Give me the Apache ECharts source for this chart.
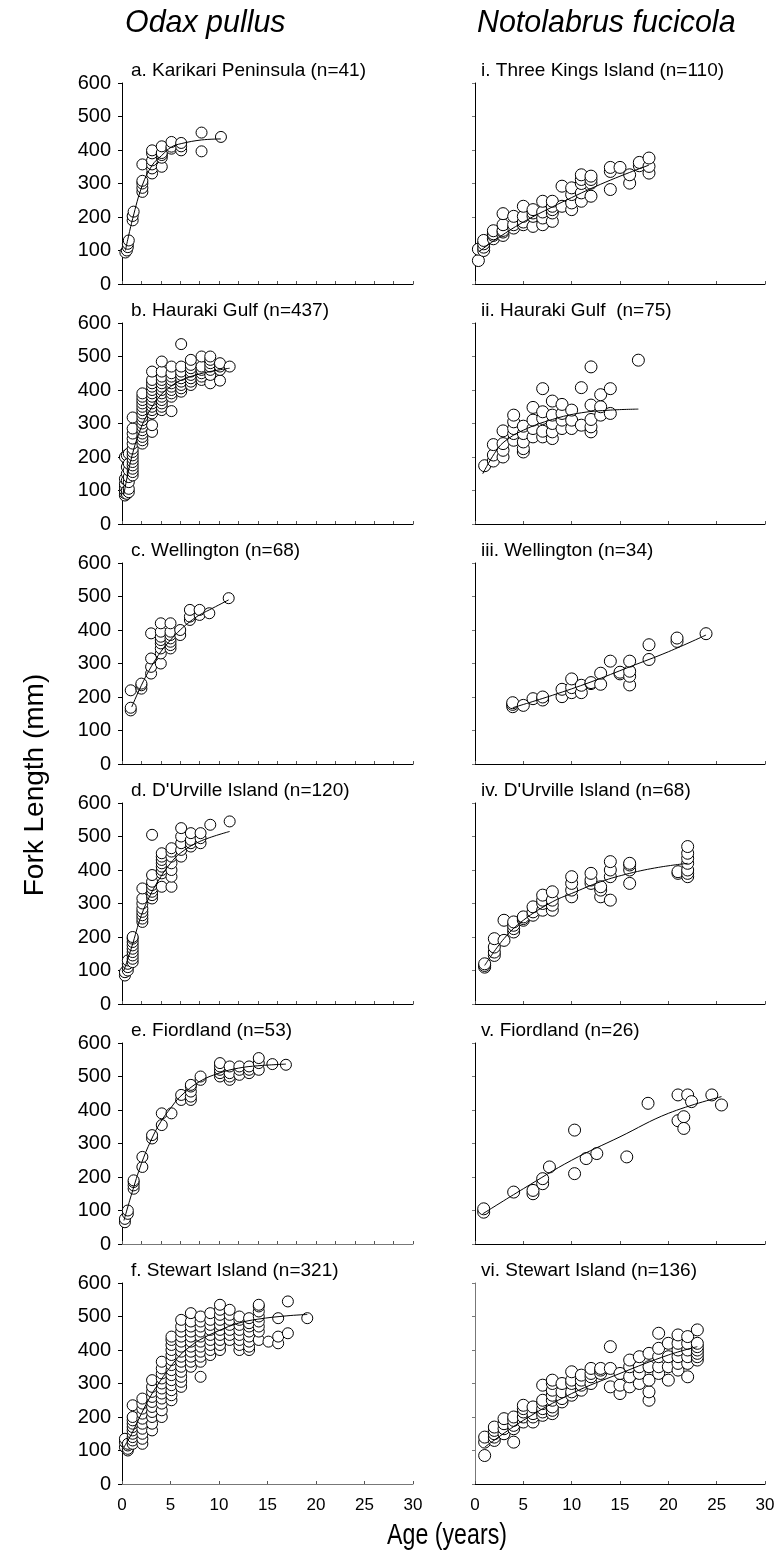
<!DOCTYPE html>
<html>
<head>
<meta charset="utf-8">
<script src="https://cdn.jsdelivr.net/npm/echarts@6/dist/echarts.min.js"></script>
<style>
html,body{margin:0;padding:0;background:#fff;}
#chart{width:782px;height:1559px;}
</style>
</head>
<body>
<div id="chart"></div>
<script>
// ---------- DATA (age in years, fork length in mm) ----------
const columnTitles = ["Odax pullus", "Notolabrus fucicola"];
const panelTitlesLeft = ["a. Karikari Peninsula (n=41)", "b. Hauraki Gulf (n=437)", "c. Wellington (n=68)", "d. D'Urville Island (n=120)", "e. Fiordland (n=53)", "f. Stewart Island (n=321)"];
const panelTitlesRight = ["i. Three Kings Island (n=110)", "ii. Hauraki Gulf  (n=75)", "iii. Wellington (n=34)", "iv. D'Urville Island (n=68)", "v. Fiordland (n=26)", "vi. Stewart Island (n=136)"];
const xTickLabels = ["0", "5", "10", "15", "20", "25", "30"];
const yTickLabels = ["0", "100", "200", "300", "400", "500", "600"];
const xAxisTitle = "Age (years)";
const yAxisTitle = "Fork Length (mm)";

// Odax pullus
const odaxKarikari = [[0.35,94],[0.5,100],[0.6,110],[0.6,120],[0.7,130],[1.1,190],[1.1,203],[1.2,216],[2.1,275],[2.1,287],[2.1,300],[2.1,308],[2.1,357],[3.1,330],[3.1,345],[3.1,357],[3.1,369],[3.1,390],[3.1,399],[4.1,350],[4.1,377],[4.1,385],[4.1,391],[4.1,411],[5.1,404],[5.1,410],[5.1,424],[6.1,399],[6.1,411],[6.1,421],[8.2,396],[8.2,452],[10.2,439]];
const odaxKarikariFit = [[0.35,100],[1.1,195],[2.1,295],[3.1,354],[4.1,384],[5.1,409],[6.1,419],[8.2,430],[10.2,433]];

const odaxHauraki = [[0.3,85],[0.3,92],[0.3,100],[0.3,110],[0.3,120],[0.3,135],[0.3,200],[0.5,90],[0.5,100],[0.5,130],[0.5,150],[0.5,170],[0.5,205],[0.7,95],[0.7,105],[0.7,125],[0.7,140],[0.7,160],[0.7,180],[0.7,210],
[1.1,145],[1.1,155],[1.1,165],[1.1,175],[1.1,185],[1.1,195],[1.1,205],[1.1,215],[1.1,225],[1.1,240],[1.1,255],[1.1,270],[1.1,285],[1.1,318],
[2.1,240],[2.1,250],[2.1,260],[2.1,270],[2.1,280],[2.1,290],[2.1,300],[2.1,310],[2.1,320],[2.1,330],[2.1,340],[2.1,350],[2.1,360],[2.1,370],[2.1,380],[2.1,390],
[3.1,275],[3.1,295],[3.1,330],[3.1,340],[3.1,350],[3.1,360],[3.1,370],[3.1,380],[3.1,390],[3.1,400],[3.1,410],[3.1,420],[3.1,430],[3.1,455],
[4.1,340],[4.1,350],[4.1,360],[4.1,370],[4.1,380],[4.1,390],[4.1,400],[4.1,410],[4.1,420],[4.1,430],[4.1,440],[4.1,455],[4.1,485],
[5.1,337],[5.1,380],[5.1,390],[5.1,400],[5.1,410],[5.1,420],[5.1,430],[5.1,440],[5.1,450],[5.1,470],
[6.1,395],[6.1,405],[6.1,415],[6.1,425],[6.1,435],[6.1,445],[6.1,455],[6.1,470],[6.1,537],
[7.1,415],[7.1,425],[7.1,435],[7.1,445],[7.1,455],[7.1,465],[7.1,475],[7.1,490],
[8.2,430],[8.2,440],[8.2,450],[8.2,460],[8.2,470],[8.2,500],
[9.1,420],[9.1,445],[9.1,460],[9.1,470],[9.1,480],[9.1,490],[9.1,500],
[10.1,428],[10.1,460],[10.1,470],[10.1,480],[11.1,470]];
const odaxHaurakiFit = [[0.2,90],[1,200],[2,290],[3,345],[4,385],[5,410],[6,428],[8,448],[10,460],[11.1,465]];

const odaxWellington = [[0.9,160],[0.9,168],[0.9,220],[2,225],[2,235],[2,240],[3,270],[3,290],[3,315],[3,390],[4,300],[4,330],[4,345],[4,360],[4,370],[4,380],[4,395],[4,420],[5,345],[5,355],[5,365],[5,375],[5,385],[5,395],[5,420],[6,385],[6,400],[7,430],[7,440],[7,460],[8,445],[8,460],[9,450],[11,495]];
const odaxWellingtonFit = [[1,170],[2,235],[3,290],[4,335],[5,370],[6,400],[7,425],[8,445],[9,460],[11,490]];

const odaxDUrville = [[0.3,85],[0.3,95],[0.6,100],[0.6,110],[0.6,120],[0.6,130],
[1.1,125],[1.1,135],[1.1,145],[1.1,155],[1.1,165],[1.1,175],[1.1,185],[1.1,195],[1.1,200],
[2.1,245],[2.1,255],[2.1,265],[2.1,275],[2.1,285],[2.1,300],[2.1,315],[2.1,345],
[3.1,315],[3.1,325],[3.1,335],[3.1,345],[3.1,355],[3.1,365],[3.1,385],[3.1,505],
[4.1,350],[4.1,390],[4.1,400],[4.1,410],[4.1,420],[4.1,430],[4.1,440],[4.1,450],
[5.1,350],[5.1,380],[5.1,400],[5.1,420],[5.1,440],[5.1,455],[5.1,465],
[6.1,440],[6.1,460],[6.1,480],[6.1,500],[6.1,525],[7.1,470],[7.1,480],[7.1,490],[7.1,510],
[8.1,480],[8.1,495],[8.1,510],[9.1,535],[11.1,545]];
const odaxDUrvilleFit = [[0.2,100],[1,170],[2,265],[3,330],[4,380],[5,420],[6,450],[8,485],[11.1,515]];

const odaxFiordland = [[0.3,65],[0.3,75],[0.6,90],[0.6,100],[1.2,165],[1.2,175],[1.2,185],[1.2,190],[2.1,230],[2.1,260],[3.1,315],[3.1,325],[4.1,355],[4.1,390],[5.1,390],[6.1,430],[6.1,445],[7.1,430],[7.1,440],[7.1,455],[7.1,470],[7.1,475],[8.1,490],[8.1,500],[10.1,500],[10.1,510],[10.1,520],[10.1,530],[10.1,540],[11.1,490],[11.1,500],[11.1,510],[11.1,530],[12.1,505],[12.1,520],[12.1,530],[13.1,510],[13.1,520],[13.1,530],[14.1,520],[14.1,540],[14.1,555],[15.5,537],[16.9,535]];
const odaxFiordlandFit = [[0.2,70],[1,150],[2,240],[3,310],[4,365],[5,405],[6,440],[8,485],[10,510],[12,525],[14,532],[16.9,537]];

const odaxStewart = [[0.3,110],[0.3,125],[0.3,135],[0.6,100],[0.6,105],[0.6,115],[0.6,120],
[1.1,120],[1.1,130],[1.1,140],[1.1,150],[1.1,160],[1.1,170],[1.1,180],[1.1,190],[1.1,200],[1.1,235],
[2.1,120],[2.1,135],[2.1,150],[2.1,165],[2.1,180],[2.1,195],[2.1,210],[2.1,225],[2.1,240],[2.1,255],
[3.1,160],[3.1,180],[3.1,200],[3.1,215],[3.1,230],[3.1,245],[3.1,260],[3.1,275],[3.1,290],[3.1,310],
[4.1,200],[4.1,220],[4.1,240],[4.1,255],[4.1,270],[4.1,285],[4.1,300],[4.1,315],[4.1,330],[4.1,345],[4.1,365],
[5.1,250],[5.1,265],[5.1,280],[5.1,295],[5.1,310],[5.1,325],[5.1,340],[5.1,355],[5.1,370],[5.1,385],[5.1,400],[5.1,415],[5.1,430],[5.1,440],
[6.1,290],[6.1,305],[6.1,320],[6.1,335],[6.1,350],[6.1,365],[6.1,380],[6.1,395],[6.1,410],[6.1,425],[6.1,440],[6.1,455],[6.1,470],[6.1,490],
[7.1,350],[7.1,365],[7.1,380],[7.1,395],[7.1,410],[7.1,425],[7.1,440],[7.1,455],[7.1,470],[7.1,485],[7.1,510],
[8.1,320],[8.1,365],[8.1,380],[8.1,395],[8.1,410],[8.1,425],[8.1,440],[8.1,455],[8.1,470],[8.1,485],[8.1,500],
[9.1,385],[9.1,400],[9.1,415],[9.1,430],[9.1,445],[9.1,460],[9.1,475],[9.1,490],[9.1,510],
[10.1,400],[10.1,415],[10.1,430],[10.1,445],[10.1,460],[10.1,475],[10.1,490],[10.1,505],[10.1,520],[10.1,535],
[11.1,430],[11.1,445],[11.1,460],[11.1,475],[11.1,490],[11.1,505],[11.1,520],
[12.1,400],[12.1,415],[12.1,430],[12.1,445],[12.1,460],[12.1,475],[12.1,490],[12.1,500],
[13.1,400],[13.1,410],[13.1,425],[13.1,440],[13.1,455],[13.1,470],[13.1,480],[13.1,495],
[14.1,430],[14.1,455],[14.1,470],[14.1,485],[14.1,500],[14.1,515],[14.1,530],[14.1,535],
[15.1,425],[16.1,420],[16.1,440],[16.1,495],[17.1,450],[17.1,545],[19.1,495]];
const odaxStewartFit = [[0.2,110],[1,150],[2,210],[3,265],[4,310],[5,350],[6,385],[7,410],[8,430],[10,458],[12,480],[14,492],[17,502],[19.1,506]];

// Notolabrus fucicola
const notoThreeKings = [[0.35,70],[0.35,104],[0.9,100],[0.9,110],[0.9,120],[0.9,130],[1.9,135],[1.9,145],[1.9,150],[1.9,159],[2.9,145],[2.9,155],[2.9,160],[2.9,177],[2.9,210],[4,167],[4,177],[4,202],[5,177],[5,185],[5,202],[5,232],[6,172],[6,202],[6,212],[6,222],[7,177],[7,197],[7,215],[7,247],[8,187],[8,212],[8,222],[8,232],[8,247],[9,232],[9,292],[10,222],[10,242],[10,267],[10,287],[11,247],[11,272],[11,300],[11,312],[11,326],[12,262],[12,301],[12,312],[12,322],[14,282],[14,336],[14,348],[15,348],[16,301],[16,326],[17,353],[17,363],[18,331],[18,351],[18,376]];
const notoThreeKingsFit = [[0.35,95],[2,130],[5,185],[8,230],[10,258],[12,285],[14,310],[16,333],[18,355]];

const notoHauraki = [[1,174],[1.9,188],[1.9,206],[1.9,237],[2.9,200],[2.9,220],[2.9,240],[2.9,278],[4,250],[4,270],[4,285],[4,305],[4,325],[5,215],[5,225],[5,245],[5,270],[5,292],[6,260],[6,285],[6,310],[6,348],[7,260],[7,277],[7,315],[7,335],[7,404],[8,255],[8,275],[8,300],[8,325],[8,367],[9,285],[9,310],[9,330],[9,357],[10,285],[10,310],[10,340],[11,295],[11,407],[12,275],[12,290],[12,312],[12,355],[12,469],[13,325],[13,350],[13,386],[14,330],[14,404],[16.9,489]];
const notoHaurakiFit = [[0.8,150],[2,210],[3,245],[5,280],[8,312],[11,332],[14,340],[16.9,343]];

const notoWellington = [[3.9,171],[3.9,178],[3.9,183],[5,175],[6,195],[7,191],[7,200],[9,201],[9,223],[10,213],[10,228],[10,254],[11,213],[11,235],[12,240],[12,243],[13,238],[13,271],[14,307],[15,269],[15,274],[16,236],[16,262],[16,277],[16,307],[18,312],[18,356],[20.9,366],[20.9,376],[23.9,389]];
const notoWellingtonFit = [[3.9,168],[8,205],[12,245],[16,290],[20,335],[23.9,385]];

const notoDUrville = [[1,110],[1,115],[1,120],[2,145],[2,155],[2,170],[2,195],[3,190],[3,250],[4,215],[4,225],[4,235],[4,245],[5,250],[5,255],[5,260],[6,265],[6,275],[6,290],[7,280],[7,300],[7,310],[7,325],[8,280],[8,295],[8,310],[8,335],[10,320],[10,340],[10,360],[10,380],[12,360],[12,370],[12,390],[13,320],[13,340],[13,350],[14,310],[14,380],[14,400],[14,425],[16,360],[16,400],[16,415],[16,420],[21,390],[21,395],[22,380],[22,390],[22,400],[22,420],[22,435],[22,450],[22,470]];
const notoDUrvilleFit = [[1,115],[3,195],[5,250],[8,305],[10,330],[13,365],[16,390],[19,408],[22,420]];

const notoFiordland = [[0.9,95],[0.9,105],[4,155],[6,150],[6,160],[7,180],[7,195],[7.7,230],[10.3,210],[10.3,340],[11.5,255],[12.6,270],[15.7,260],[17.9,420],[21,445],[21,368],[21.6,380],[21.6,345],[22,445],[22.4,425],[24.5,445],[25.5,415]];
const notoFiordlandFit = [[0.8,90],[5,165],[10,250],[15,320],[20,390],[25.5,440]];

const notoStewart = [[1,85],[1,125],[1,140],[2,130],[2,140],[2,150],[2,160],[2,170],[3,150],[3,165],[3,180],[3,195],[4,125],[4,165],[4,175],[4,190],[4,200],[5,185],[5,200],[5,215],[5,225],[5,235],[6,185],[6,200],[6,210],[6,230],[7,205],[7,215],[7,225],[7,240],[7,250],[7,295],[8,210],[8,220],[8,230],[8,250],[8,265],[8,280],[8,300],[8,310],[9,245],[9,255],[9,275],[9,300],[10,265],[10,275],[10,300],[10,310],[10,335],[11,280],[11,295],[11,310],[11,325],[12,300],[12,320],[12,330],[12,345],[13,330],[13,340],[13,345],[14,290],[14,345],[14,410],[15,270],[15,295],[15,330],[16,290],[16,320],[16,350],[16,370],[17,300],[17,330],[17,350],[17,380],[18,250],[18,275],[18,310],[18,350],[18,390],[19,330],[19,350],[19,380],[19,405],[19,450],[20,310],[20,350],[20,380],[20,420],[21,340],[21,360],[21,380],[21,400],[21,420],[21,445],[22,320],[22,360],[22,380],[22,400],[22,420],[22,440],[23,370],[23,380],[23,390],[23,400],[23,410],[23,420],[23,460]];
const notoStewartFit = [[1,110],[5,190],[10,270],[15,330],[20,385],[23,410]];

// ---------- CHART ----------
const leftData = [odaxKarikari, odaxHauraki, odaxWellington, odaxDUrville, odaxFiordland, odaxStewart];
const leftFit = [odaxKarikariFit, odaxHaurakiFit, odaxWellingtonFit, odaxDUrvilleFit, odaxFiordlandFit, odaxStewartFit];
const rightData = [notoThreeKings, notoHauraki, notoWellington, notoDUrville, notoFiordland, notoStewart];
const rightFit = [notoThreeKingsFit, notoHaurakiFit, notoWellingtonFit, notoDUrvilleFit, notoFiordlandFit, notoStewartFit];

const rowTops = [83, 323, 563, 803, 1043, 1283];
const plotH = 201;
const colLeft = [122, 475];
const plotW = [291, 290];
const FONT = '"Liberation Sans", Arial, sans-serif';

const grids = [], xAxes = [], yAxes = [], series = [], titles = [];
let idx = 0;
for (let col = 0; col < 2; col++) {
  for (let row = 0; row < 6; row++) {
    const isBottom = row === 5;
    grids.push({left: colLeft[col], top: rowTops[row], width: plotW[col], height: plotH, containLabel: false});
    const minorTicks = col === 0 && !isBottom;
    xAxes.push({
      gridIndex: idx, type: 'value', min: 0, max: 30, interval: minorTicks ? 2 : 5,
      axisLine: {show: true, onZero: false, lineStyle: {color: (col === 0 && row >= 4) ? '#777' : '#000', width: 1}},
      axisTick: {show: true, inside: true, length: 3, lineStyle: {color: '#555'}},
      axisLabel: {show: isBottom, margin: 13, fontFamily: FONT, fontSize: 17, color: '#000',
        formatter: v => xTickLabels[v / 5]},
      splitLine: {show: false}
    });
    yAxes.push({
      gridIndex: idx, type: 'value', min: 0, max: 600, interval: 100,
      axisLine: {show: true, lineStyle: {color: (col === 1 && row === 5) ? '#777' : '#000', width: 1}},
      axisTick: {show: true, inside: false, length: col === 0 ? 4 : 3, lineStyle: {color: col === 0 ? '#000' : '#777'}},
      axisLabel: {show: col === 0, margin: 11, fontFamily: FONT, fontSize: 20, color: '#000',
        formatter: v => yTickLabels[v / 100]},
      splitLine: {show: false}
    });
    const pts = col === 0 ? leftData[row] : rightData[row];
    const fit = col === 0 ? leftFit[row] : rightFit[row];
    series.push({
      type: 'scatter', xAxisIndex: idx, yAxisIndex: idx, data: pts,
      symbol: 'circle', symbolSize: col === 0 ? 11 : 12,
      itemStyle: {color: '#fff', borderColor: '#000', borderWidth: 1, opacity: 1},
      z: 2, silent: true
    });
    series.push({
      type: 'line', xAxisIndex: idx, yAxisIndex: idx, data: fit,
      smooth: 0.4, showSymbol: false, symbol: 'none',
      lineStyle: {color: '#000', width: 1}, z: 3, silent: true
    });
    titles.push({
      text: col === 0 ? panelTitlesLeft[row] : panelTitlesRight[row],
      left: col === 0 ? 131 : 481, top: rowTops[row] - 22,
      textStyle: {fontFamily: FONT, fontSize: 19, fontWeight: 'normal', color: '#000'},
      padding: 0
    });
    idx++;
  }
}

const chart = echarts.init(document.getElementById('chart'), null, {renderer: 'canvas'});
chart.setOption({
  animation: false,
  backgroundColor: '#fff',
  title: titles,
  grid: grids, xAxis: xAxes, yAxis: yAxes, series: series,
  graphic: [
    {type: 'text', x: 125, y: 23, scaleX: 0.95,
      style: {text: columnTitles[0], font: 'italic 32px "Liberation Sans", Arial, sans-serif', fill: '#000', textAlign: 'left', textVerticalAlign: 'middle'}},
    {type: 'text', x: 477, y: 23, scaleX: 0.95,
      style: {text: columnTitles[1], font: 'italic 32px "Liberation Sans", Arial, sans-serif', fill: '#000', textAlign: 'left', textVerticalAlign: 'middle'}},
    {type: 'text', x: 35, y: 785, rotation: Math.PI / 2,
      style: {text: yAxisTitle, font: '28px "Liberation Sans", Arial, sans-serif', fill: '#000', textAlign: 'center', textVerticalAlign: 'middle'}},
    {type: 'text', x: 447, y: 1536, scaleX: 0.8,
      style: {text: xAxisTitle, font: '29px "Liberation Sans", Arial, sans-serif', fill: '#000', textAlign: 'center', textVerticalAlign: 'middle'}}
  ]
});
</script>
</body>
</html>
